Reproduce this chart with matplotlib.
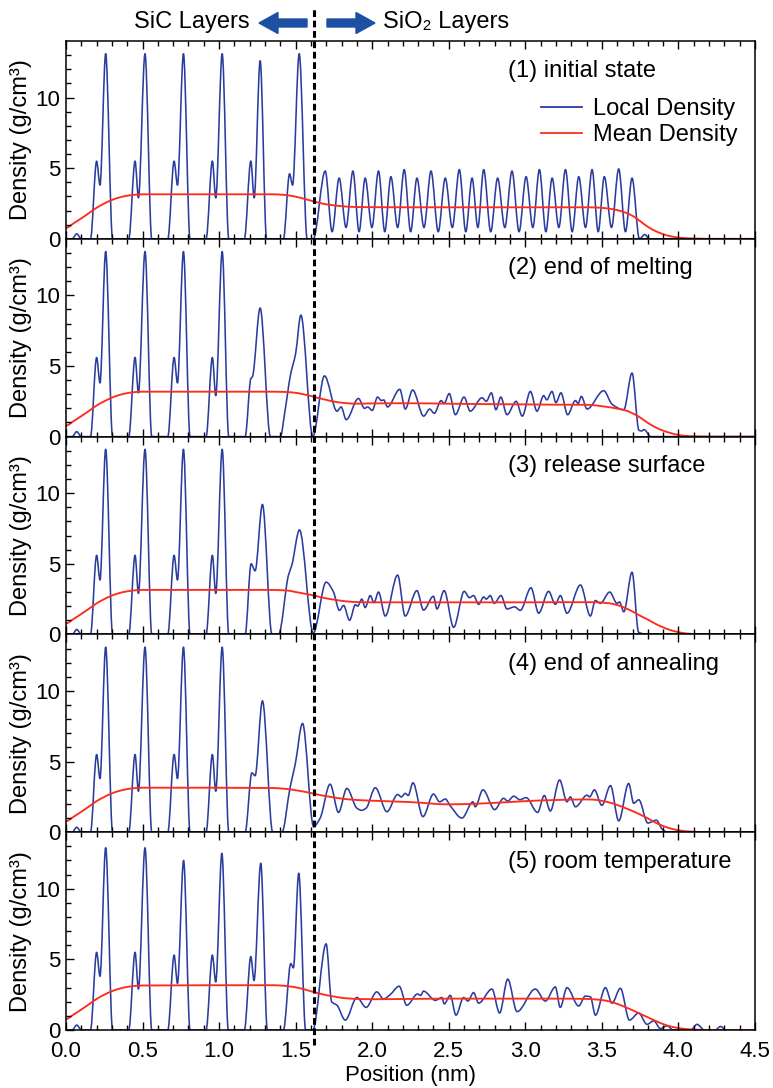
import numpy as np
import matplotlib
matplotlib.use("Agg")
import matplotlib.pyplot as plt
from matplotlib.path import Path
from matplotlib.patches import PathPatch, FancyArrow
from matplotlib.lines import Line2D
from matplotlib import transforms

plt.rcParams["font.family"] = ["Liberation Sans", "DejaVu Sans"]

# ---- donnees (position nm, densite g/cm3) ----
panel_labels = ["(1) initial state", "(2) end of melting", "(3) release surface",
                "(4) end of annealing", "(5) room temperature"]

# densite locale : extrema (pics / creux) de chaque courbe bleue
local_1 = [(0.0, 0), (0.04, 0), (0.07, 0.35), (0.10, 0), (0.16, 0), (0.200, 5.5), (0.222, 3.8), (0.259, 13.1), (0.304, 0),
           (0.41, 0), (0.451, 5.5), (0.473, 2.9), (0.516, 13.1), (0.56, 0),
           (0.665, 0), (0.706, 5.5), (0.728, 3.8), (0.767, 13.1), (0.81, 0),
           (0.915, 0), (0.956, 5.5), (0.978, 2.9), (1.020, 13.1), (1.063, 0),
           (1.165, 0), (1.207, 5.5), (1.229, 2.9), (1.268, 12.6), (1.31, 0),
           (1.42, 0), (1.460, 4.6), (1.480, 3.8), (1.523, 13.1), (1.575, 0), (1.615, 0),
           (1.693, 4.8), (1.738, 0.5), (1.784, 4.3), (1.829, 0.8), (1.874, 4.8), (1.914, 0.5),
           (1.954, 4.3), (1.998, 0.8), (2.041, 4.8), (2.082, 0.5), (2.122, 4.4), (2.166, 0.8),
           (2.209, 4.9), (2.251, 0.5), (2.292, 4.3), (2.338, 0.8), (2.384, 4.8), (2.431, 0.5),
           (2.477, 4.3), (2.523, 0.8), (2.569, 4.9), (2.611, 0.5), (2.652, 4.3), (2.690, 0.8),
           (2.728, 4.9), (2.774, 0.5), (2.819, 4.3), (2.866, 0.8), (2.913, 4.8), (2.959, 0.5),
           (3.005, 4.4), (3.049, 0.8), (3.092, 4.9), (3.134, 0.5), (3.175, 4.3), (3.219, 0.8),
           (3.262, 4.9), (3.306, 0.5), (3.349, 4.4), (3.393, 0.8), (3.436, 4.9), (3.476, 0.5),
           (3.516, 4.4), (3.563, 0.8), (3.610, 4.95), (3.654, 0.5), (3.697, 4.3), (3.745, 0.0),
           (3.78, 0.3), (3.81, 0.0), (4.5, 0.0)]

local_2 = [(0.0, 0), (0.04, 0), (0.07, 0.35), (0.10, 0), (0.16, 0), (0.200, 5.6), (0.222, 3.8), (0.259, 13.1), (0.304, 0),
           (0.41, 0), (0.451, 5.6), (0.473, 3.1), (0.516, 13.1), (0.56, 0),
           (0.665, 0), (0.706, 5.6), (0.728, 3.8), (0.767, 13.1), (0.81, 0),
           (0.915, 0), (0.956, 5.6), (0.978, 2.9), (1.020, 13.1), (1.063, 0),
           (1.17, 0), (1.207, 4.1), (1.218, 4.25), (1.268, 9.1), (1.335, 0),
           (1.40, 0), (1.43, 1.8), (1.465, 4.3), (1.50, 5.9), (1.534, 8.6), (1.612, 0),
           (1.688, 4.3), (1.77, 1.8), (1.797, 2.1), (1.83, 1.2), (1.91, 2.7), (1.95, 2.0),
           (1.97, 2.1), (2.0, 1.85), (2.035, 2.8), (2.06, 2.55), (2.075, 2.6), (2.1, 2.1),
           (2.18, 3.35), (2.216, 1.95), (2.264, 3.3), (2.336, 1.45), (2.375, 1.95), (2.405, 1.65),
           (2.45, 2.55), (2.47, 2.35), (2.503, 3.05), (2.543, 1.55), (2.6, 2.8), (2.64, 1.8),
           (2.717, 2.75), (2.745, 2.5), (2.778, 3.1), (2.808, 1.9), (2.84, 2.8), (2.88, 1.55),
           (2.94, 2.5), (2.98, 1.45), (3.033, 3.2), (3.076, 1.8), (3.12, 2.9), (3.14, 2.6),
           (3.174, 3.2), (3.2, 2.4), (3.233, 3.1), (3.276, 1.55), (3.327, 2.55), (3.345, 2.35),
           (3.366, 2.85), (3.403, 1.95), (3.512, 3.25), (3.566, 2.3), (3.643, 1.9), (3.697, 4.5),
           (3.742, 0.45), (3.76, 0.4), (3.775, 0.5), (3.82, 0.0), (4.5, 0.0)]

local_3 = [(0.0, 0), (0.04, 0), (0.07, 0.35), (0.10, 0), (0.16, 0), (0.200, 5.6), (0.222, 3.85), (0.259, 13.1), (0.304, 0),
           (0.41, 0), (0.451, 5.6), (0.473, 2.9), (0.516, 13.1), (0.56, 0),
           (0.665, 0), (0.706, 5.6), (0.728, 3.85), (0.767, 13.1), (0.81, 0),
           (0.915, 0), (0.956, 5.6), (0.978, 2.9), (1.020, 13.1), (1.063, 0),
           (1.17, 0), (1.209, 5.0), (1.235, 4.5), (1.283, 9.2), (1.345, 0),
           (1.388, 0), (1.453, 4.2), (1.475, 4.9), (1.525, 7.4), (1.615, 0.1),
           (1.699, 3.7), (1.747, 3.0), (1.786, 1.7), (1.813, 2.05), (1.852, 1.0), (1.89, 2.1),
           (1.905, 2.0), (1.932, 2.5), (1.954, 1.9), (1.987, 2.75), (2.012, 2.25), (2.041, 3.0),
           (2.085, 1.3), (2.166, 4.2), (2.215, 1.3), (2.292, 3.1), (2.335, 1.72), (2.4, 2.7),
           (2.423, 1.8), (2.47, 3.1), (2.532, 0.5), (2.601, 3.05), (2.635, 2.6), (2.662, 2.75),
           (2.695, 2.13), (2.728, 2.65), (2.745, 2.5), (2.771, 2.75), (2.797, 2.2), (2.841, 2.75),
           (2.88, 1.8), (2.93, 1.95), (2.967, 1.7), (3.037, 3.3), (3.087, 1.5), (3.152, 3.05),
           (3.196, 2.13), (3.229, 2.75), (3.272, 1.5), (3.36, 3.5), (3.425, 1.3), (3.457, 2.4),
           (3.49, 2.2), (3.551, 3.0), (3.599, 2.2), (3.615, 2.3), (3.643, 1.6), (3.697, 4.4),
           (3.74, 0.15), (3.8, 0.0), (4.5, 0.0)]

local_4 = [(0.0, 0), (0.04, 0), (0.07, 0.35), (0.10, 0), (0.16, 0), (0.200, 5.5), (0.222, 3.8), (0.259, 13.1), (0.304, 0),
           (0.41, 0), (0.451, 5.5), (0.473, 2.9), (0.516, 13.1), (0.56, 0),
           (0.665, 0), (0.706, 5.5), (0.728, 3.8), (0.767, 13.1), (0.81, 0),
           (0.915, 0), (0.956, 5.5), (0.978, 2.9), (1.020, 13.1), (1.063, 0),
           (1.17, 0), (1.214, 4.2), (1.235, 4.0), (1.283, 9.3), (1.35, 0),
           (1.41, 0), (1.464, 3.2), (1.497, 4.8), (1.545, 7.7), (1.617, 0.4),
           (1.66, 1.0), (1.725, 3.4), (1.78, 1.4), (1.834, 3.1), (1.9, 1.7), (1.93, 1.55),
           (1.96, 1.7), (2.02, 3.15), (2.096, 1.45), (2.166, 2.67), (2.19, 2.5), (2.216, 2.75),
           (2.235, 2.6), (2.266, 3.5), (2.331, 1.1), (2.4, 2.7), (2.44, 2.15), (2.477, 2.35),
           (2.51, 1.87), (2.586, 1.0), (2.658, 2.15), (2.673, 1.8), (2.723, 3.0), (2.8, 1.6),
           (2.858, 2.4), (2.885, 2.2), (2.924, 2.55), (2.965, 2.3), (3.005, 2.45), (3.08, 1.4),
           (3.124, 2.6), (3.163, 1.5), (3.224, 3.7), (3.272, 2.15), (3.294, 2.5), (3.327, 1.8),
           (3.403, 2.62), (3.42, 2.5), (3.451, 3.0), (3.5, 1.9), (3.556, 3.3), (3.61, 0.8),
           (3.675, 3.45), (3.708, 2.05), (3.741, 2.3), (3.8, 0.65), (3.856, 0.85), (3.895, 0.2),
           (3.93, 0.0), (4.5, 0.0)]

local_5 = [(0.0, 0), (0.04, 0), (0.07, 0.35), (0.10, 0), (0.16, 0), (0.200, 5.5), (0.222, 3.8), (0.259, 12.9), (0.304, 0),
           (0.41, 0), (0.451, 5.5), (0.473, 2.9), (0.516, 12.9), (0.56, 0),
           (0.665, 0), (0.706, 5.3), (0.728, 3.3), (0.768, 12.0), (0.81, 0),
           (0.915, 0), (0.956, 5.3), (0.978, 3.4), (1.018, 12.5), (1.06, 0),
           (1.165, 0), (1.207, 5.2), (1.228, 3.5), (1.272, 11.8), (1.315, 0),
           (1.42, 0), (1.468, 4.7), (1.485, 4.4), (1.52, 11.1), (1.565, 0), (1.612, 0),
           (1.699, 6.1), (1.735, 2.0), (1.77, 1.75), (1.824, 0.7), (1.9, 2.3), (1.96, 1.6),
           (2.03, 2.7), (2.074, 2.2), (2.117, 2.5), (2.176, 3.1), (2.226, 1.75), (2.296, 2.55),
           (2.316, 2.45), (2.335, 2.75), (2.412, 2.1), (2.455, 2.3), (2.47, 1.85), (2.51, 2.45),
           (2.547, 1.05), (2.597, 2.3), (2.625, 2.05), (2.662, 2.65), (2.695, 1.9), (2.782, 2.9),
           (2.832, 1.2), (2.885, 3.6), (2.946, 1.3), (3.065, 2.9), (3.131, 2.05), (3.196, 3.05),
           (3.228, 1.6), (3.272, 3.0), (3.348, 1.7), (3.392, 2.4), (3.425, 2.35), (3.458, 1.05),
           (3.523, 3.0), (3.566, 1.9), (3.621, 2.95), (3.68, 0.7), (3.74, 1.2), (3.795, 0.4),
           (3.839, 0.65), (3.882, 0.1), (3.926, 0.3), (3.965, 0.0), (4.08, 0.0), (4.122, 0.4),
           (4.17, 0.0), (4.24, 0.0), (4.275, 0.25), (4.31, 0.0), (4.5, 0.0)]

# densite moyenne (courbe rouge)
mean_x = [0.0, 0.05, 0.1, 0.15, 0.2, 0.25, 0.3, 0.35, 0.4, 0.45, 0.5,
          1.35, 1.4, 1.45, 1.5, 1.55, 1.6, 1.65, 1.7, 1.75, 1.8, 1.85, 1.9,
          2.0, 2.25, 2.5, 2.75, 3.0, 3.2,
          3.4, 3.45, 3.5, 3.55, 3.6, 3.65, 3.7, 3.75, 3.8, 3.85, 3.9, 3.95, 4.0, 4.05, 4.1, 4.15, 4.2,
          4.5]
mean_1 = [0.78, 1.1, 1.45, 1.82, 2.2, 2.5, 2.75, 2.93, 3.05, 3.12, 3.15,
          3.15, 3.13, 3.08, 2.98, 2.85, 2.7, 2.56, 2.44, 2.37, 2.31, 2.27, 2.25,
          2.24, 2.23, 2.23, 2.23, 2.23, 2.23,
          2.23, 2.22, 2.19, 2.13, 2.03, 1.87, 1.63, 1.25, 0.85, 0.55, 0.33, 0.18, 0.09, 0.04, 0.02, 0.01, 0.0,
          0.0]
mean_2 = [0.78, 1.1, 1.45, 1.82, 2.2, 2.5, 2.76, 2.95, 3.08, 3.15, 3.18,
          3.18, 3.17, 3.15, 3.1, 3.0, 2.87, 2.73, 2.6, 2.48, 2.4, 2.35, 2.33,
          2.35, 2.36, 2.33, 2.3, 2.28, 2.26,
          2.25, 2.22, 2.15, 2.08, 1.98, 1.87, 1.65, 1.35, 0.97, 0.66, 0.42, 0.25, 0.12, 0.05, 0.02, 0.01, 0.0,
          0.0]
mean_3 = [0.78, 1.1, 1.45, 1.82, 2.2, 2.5, 2.75, 2.93, 3.05, 3.12, 3.15,
          3.15, 3.13, 3.1, 3.0, 2.9, 2.8, 2.67, 2.55, 2.46, 2.38, 2.32, 2.29,
          2.27, 2.27, 2.27, 2.27, 2.27, 2.28,
          2.28, 2.28, 2.25, 2.2, 2.08, 1.88, 1.62, 1.32, 1.05, 0.75, 0.5, 0.3, 0.16, 0.07, 0.03, 0.01, 0.0,
          0.0]
mean_4 = [0.78, 1.1, 1.45, 1.82, 2.2, 2.5, 2.75, 2.93, 3.05, 3.12, 3.15,
          3.13, 3.1, 3.05, 2.97, 2.88, 2.77, 2.65, 2.55, 2.46, 2.38, 2.32, 2.28,
          2.23, 2.13, 1.97, 2.05, 2.2, 2.28,
          2.32, 2.3, 2.22, 2.1, 1.93, 1.72, 1.5, 1.25, 0.98, 0.68, 0.44, 0.26, 0.14, 0.07, 0.03, 0.01, 0.0,
          0.0]
mean_5 = [0.78, 1.1, 1.45, 1.82, 2.2, 2.5, 2.75, 2.93, 3.05, 3.12, 3.15,
          3.17, 3.15, 3.1, 3.02, 2.9, 2.74, 2.6, 2.47, 2.37, 2.28, 2.23, 2.2,
          2.18, 2.2, 2.22, 2.22, 2.22, 2.22,
          2.2, 2.17, 2.12, 2.02, 1.85, 1.63, 1.4, 1.15, 0.9, 0.65, 0.42, 0.25, 0.14, 0.07, 0.03, 0.01, 0.0,
          0.0]

local_all = [local_1, local_2, local_3, local_4, local_5]
mean_all = [mean_1, mean_2, mean_3, mean_4, mean_5]

interface_x = 1.617

BLUE = "#2B3C9F"
RED = "#FF2B1C"
ARROW_BLUE = "#1D4FA3"


def courbe_lisse(ax, x, y, color, lw):
    # courbe douce passant par les points lus (tangentes type PCHIP, bezier cubique)
    x = np.asarray(x, float)
    y = np.asarray(y, float)
    h = np.diff(x)
    d = np.diff(y) / h
    m = np.zeros_like(y)
    for k in range(1, len(x) - 1):
        if d[k - 1] * d[k] > 0:
            w1 = 2 * h[k] + h[k - 1]
            w2 = h[k] + 2 * h[k - 1]
            m[k] = (w1 + w2) / (w1 / d[k - 1] + w2 / d[k])
    verts = [(x[0], y[0])]
    codes = [Path.MOVETO]
    for i in range(len(x) - 1):
        verts += [(x[i] + h[i] / 3, y[i] + m[i] * h[i] / 3),
                  (x[i + 1] - h[i] / 3, y[i + 1] - m[i + 1] * h[i] / 3),
                  (x[i + 1], y[i + 1])]
        codes += [Path.CURVE4] * 3
    ax.add_patch(PathPatch(Path(verts, codes), fill=False, edgecolor=color,
                           lw=lw, joinstyle="round", capstyle="round"))


fig, axes = plt.subplots(5, 1, figsize=(7.73, 10.88), dpi=100, sharex=True)
fig.subplots_adjust(left=0.0854, right=0.9767, top=0.9623, bottom=0.0533, hspace=0)

for i, ax in enumerate(axes):
    pts = np.array(local_all[i], float)
    courbe_lisse(ax, pts[:, 0], pts[:, 1], BLUE, 1.15)
    courbe_lisse(ax, mean_x, mean_all[i], RED, 1.35)

    ax.set_xlim(0, 4.5)
    ax.set_ylim(0, 14)
    ax.set_xticks(np.arange(0, 4.51, 0.5))
    ax.set_xticks(np.arange(0, 4.51, 0.1), minor=True)
    ax.set_yticks([0, 5, 10])
    ax.set_yticks(np.arange(0, 14, 1), minor=True)
    ax.tick_params(axis="x", which="both", direction="in", top=True, bottom=True,
                   labelsize=16, pad=8)
    ax.tick_params(axis="y", which="both", direction="in", left=True, right=False,
                   labelsize=16, pad=4)
    ax.tick_params(which="major", length=6, width=1)
    ax.tick_params(which="minor", length=3.5, width=1)
    for s in ax.spines.values():
        s.set_linewidth(1.1)

    ax.set_ylabel("Density (g/cm³)", fontsize=17)
    ax.yaxis.set_label_coords(-0.05, 0.5)
    ax.text(0.641, 0.85, panel_labels[i], transform=ax.transAxes,
            fontsize=17, ha="left", va="center")

axes[-1].set_xlabel("Position (nm)", fontsize=16, labelpad=2)
axes[-1].set_xticklabels(["%.1f" % v for v in np.arange(0, 4.51, 0.5)])

handles = [Line2D([], [], color=BLUE, lw=1.3), Line2D([], [], color=RED, lw=1.3)]
axes[0].legend(handles, ["Local Density", "Mean Density"], loc="upper left",
               bbox_to_anchor=(0.689, 0.71), frameon=False, fontsize=17,
               borderpad=0, borderaxespad=0, handlelength=1.75,
               handletextpad=0.45, labelspacing=0.15)

# ligne d'interface en pointilles, a travers toutes les vignettes
trans = transforms.blended_transform_factory(axes[0].transData, fig.transFigure)
fig.add_artist(Line2D([interface_x, interface_x], [1 - 1045 / 1088, 1 - 8 / 1088],
                      transform=trans, color="black", lw=2.2,
                      linestyle=(0, (2.2, 1.2)), clip_on=False))

# annotation du haut
H = 1088
fig.text(250 / 773, 1 - 22 / H, "SiC Layers", fontsize=17, ha="right", va="center")
fig.text(383 / 773, 1 - 22 / H, "SiO₂ Layers", fontsize=17, ha="left", va="center")
ident = transforms.IdentityTransform()
fig.add_artist(FancyArrow(307, H - 23, -48, 0, width=8, head_width=21, head_length=19,
                          length_includes_head=True, color=ARROW_BLUE, transform=ident))
fig.add_artist(FancyArrow(327, H - 23, 48, 0, width=8, head_width=21, head_length=19,
                          length_includes_head=True, color=ARROW_BLUE, transform=ident))

fig.savefig("out.png", dpi=100)
